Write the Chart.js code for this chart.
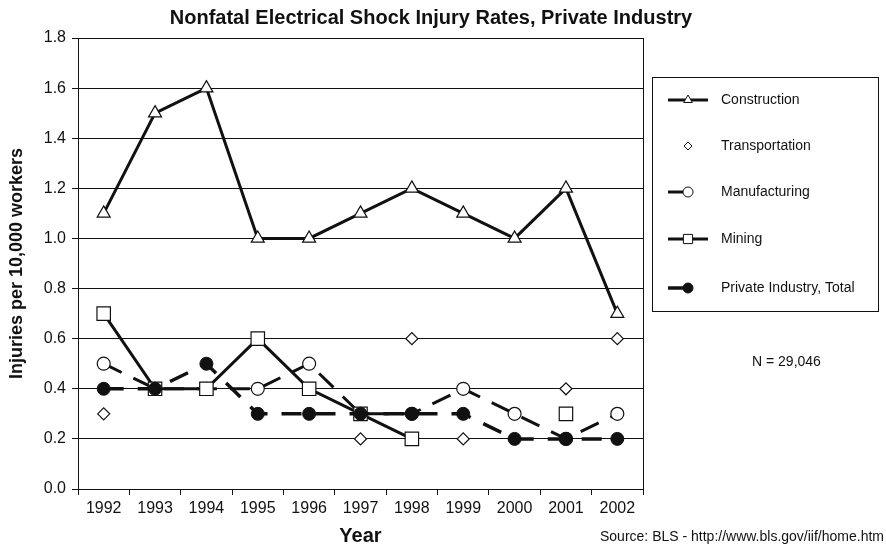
<!DOCTYPE html>
<html>
<head>
<meta charset="utf-8">
<script src="https://cdn.jsdelivr.net/npm/chart.js@4.4.0/dist/chart.umd.min.js"></script>
<style>
  html, body { margin: 0; padding: 0; background: #fff; }
  #wrap { width: 886px; height: 548px; position: relative; }
</style>
</head>
<body>
<div id="wrap"><canvas id="shockChart" width="886" height="548"></canvas></div>
<script>
// data
const years = ['1992', '1993', '1994', '1995', '1996', '1997', '1998', '1999', '2000', '2001', '2002'];
const construction = [1.1, 1.5, 1.6, 1.0, 1.0, 1.1, 1.2, 1.1, 1.0, 1.2, 0.7];
const transportation = [0.3, null, null, null, null, 0.2, 0.6, 0.2, null, 0.4, 0.6];
const manufacturing = [0.5, 0.4, 0.4, 0.4, 0.5, 0.3, 0.3, 0.4, 0.3, 0.2, 0.3];
const mining = [0.7, 0.4, 0.4, 0.6, 0.4, 0.3, 0.2, null, null, 0.3, null];
const privateTotal = [0.4, 0.4, 0.5, 0.3, 0.3, 0.3, 0.3, 0.3, 0.2, 0.2, 0.2];
const yTicks = [0, 0.2, 0.4, 0.6, 0.8, 1.0, 1.2, 1.4, 1.6, 1.8];

const ink = '#111';
const font = 'Liberation Sans, Arial, sans-serif';

// title, legend box, N note and source line drawn on the canvas
const extras = {
  id: 'extras',
  afterDraw(chart) {
    const ctx = chart.ctx;
    ctx.save();

    ctx.fillStyle = ink;
    ctx.font = 'bold 20px ' + font;
    ctx.textAlign = 'center';
    ctx.textBaseline = 'middle';
    ctx.fillText('Nonfatal Electrical Shock Injury Rates, Private Industry', 431, 18);

    ctx.strokeStyle = ink;
    ctx.lineWidth = 1;
    ctx.strokeRect(652.5, 77.5, 226, 234);

    const rows = [100, 146, 192, 239, 288];
    const legendSize = [5, 4, 5, 6.5, 5];
    chart.data.datasets.forEach((ds, i) => {
      const y = rows[i];
      if (ds.showLine !== false) {
        ctx.save();
        ctx.strokeStyle = ink;
        ctx.lineWidth = ds.borderWidth;
        ctx.setLineDash([]);
        ctx.beginPath();
        const short = ds.borderDash && ds.borderDash.length;
        ctx.moveTo(668, y);
        ctx.lineTo(short ? 690 : 708, y);
        ctx.stroke();
        ctx.restore();
      }
      ctx.save();
      ctx.fillStyle = ds.pointBackgroundColor;
      ctx.strokeStyle = ds.pointBorderColor;
      ctx.lineWidth = 1;
      ctx.setLineDash([]);
      Chart.helpers.drawPoint(ctx, {
        pointStyle: ds.pointStyle,
        radius: legendSize[i],
        rotation: 0,
        borderWidth: 1
      }, 688, y);
      ctx.restore();
      ctx.fillStyle = ink;
      ctx.font = '14px ' + font;
      ctx.textBaseline = 'middle';
      ctx.textAlign = 'left';
      ctx.fillText(ds.label, 721, y);
    });

    ctx.fillStyle = ink;
    ctx.font = '14px ' + font;
    ctx.textBaseline = 'middle';
    ctx.textAlign = 'left';
    ctx.fillText('N = 29,046', 752, 362);
    ctx.textAlign = 'right';
    ctx.fillText('Source: BLS - http://www.bls.gov/iif/home.htm', 884, 537);

    // right border of the plot
    const a = chart.chartArea;
    ctx.beginPath();
    ctx.moveTo(Math.round(a.right) + 0.5, a.top);
    ctx.lineTo(Math.round(a.right) + 0.5, a.bottom);
    ctx.stroke();
    ctx.restore();
  }
};

const ctx = document.getElementById('shockChart').getContext('2d');
new Chart(ctx, {
  type: 'line',
  data: {
    labels: years,
    datasets: [
      {
        label: 'Construction',
        data: construction,
        order: 4,
        borderColor: ink,
        borderWidth: 3,
        pointStyle: 'triangle',
        pointRadius: 7.5,
        pointBackgroundColor: '#fff',
        pointBorderColor: ink,
        pointBorderWidth: 1.2
      },
      {
        label: 'Transportation',
        data: transportation,
        order: 3,
        showLine: false,
        borderColor: ink,
        borderWidth: 0,
        pointStyle: 'rectRot',
        pointRadius: 6,
        pointBackgroundColor: '#fff',
        pointBorderColor: ink,
        pointBorderWidth: 1.2
      },
      {
        label: 'Manufacturing',
        data: manufacturing,
        order: 2,
        borderColor: ink,
        borderWidth: 3,
        borderDash: [20, 13],
        pointStyle: 'circle',
        pointRadius: 6.5,
        pointBackgroundColor: '#fff',
        pointBorderColor: ink,
        pointBorderWidth: 1.2
      },
      {
        label: 'Mining',
        data: mining,
        order: 1,
        borderColor: ink,
        borderWidth: 3,
        pointStyle: 'rect',
        pointRadius: 9.5,
        pointBackgroundColor: '#fff',
        pointBorderColor: ink,
        pointBorderWidth: 1.2
      },
      {
        label: 'Private Industry, Total',
        data: privateTotal,
        order: 0,
        borderColor: ink,
        borderWidth: 3.5,
        borderDash: [20, 14],
        pointStyle: 'circle',
        pointRadius: 6.5,
        pointBackgroundColor: ink,
        pointBorderColor: ink,
        pointBorderWidth: 1
      }
    ]
  },
  options: {
    responsive: false,
    animation: false,
    spanGaps: false,
    layout: { padding: { left: 6, right: 243, top: 38, bottom: 0 } },
    plugins: {
      legend: { display: false },
      tooltip: { enabled: false },
      title: { display: false }
    },
    scales: {
      x: {
        offset: true,
        grid: { display: true, drawOnChartArea: false, offset: true, tickLength: 6, color: ink },
        border: { color: ink },
        ticks: { color: ink, font: { family: font, size: 16 }, padding: 4, maxRotation: 0 },
        title: { display: true, text: 'Year', color: ink, font: { family: font, size: 20, weight: 'bold' }, padding: { top: 4, bottom: 0 } },
        afterFit(scale) { scale.height = 59; }
      },
      y: {
        min: 0,
        max: 1.8,
        afterBuildTicks(scale) { scale.ticks = yTicks.map(v => ({ value: v })); },
        grid: { color: ink, lineWidth: 1, tickLength: 6 },
        border: { color: ink },
        ticks: {
          color: ink,
          font: { family: font, size: 16 },
          padding: 6,
          callback: v => Number(v).toFixed(1)
        },
        title: { display: true, text: 'Injuries per 10,000 workers', color: ink, font: { family: font, size: 18, weight: 'bold' }, padding: { top: 0, bottom: 4 } },
        afterFit(scale) { scale.width = 72; }
      }
    }
  },
  plugins: [extras]
});
</script>
</body>
</html>
